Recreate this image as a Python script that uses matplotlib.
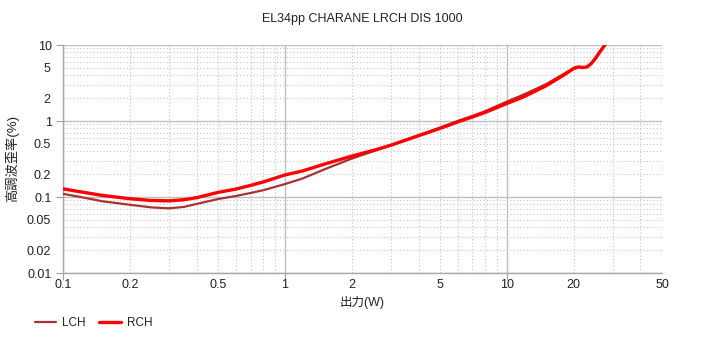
import matplotlib
matplotlib.use("Agg")
import matplotlib.pyplot as plt
from matplotlib.ticker import FixedLocator, FuncFormatter

plt.rcParams['font.family'] = ['Liberation Sans', 'Noto Sans CJK JP', 'DejaVu Sans']

power = [0.1, 0.12, 0.15, 0.2, 0.25, 0.3, 0.35, 0.4, 0.5, 0.6, 0.7, 0.8, 1.0, 1.2, 1.5,
         2, 2.5, 3, 4, 5, 6, 7, 8, 10, 12, 15, 18, 20, 21, 22, 23, 24, 25, 26, 27, 28, 29]
lch = [0.11, 0.10, 0.088, 0.079, 0.073, 0.071, 0.074, 0.081, 0.094, 0.103, 0.113, 0.123, 0.148,
       0.175, 0.23, 0.32, 0.40, 0.48, 0.65, 0.82, 1.0, 1.17, 1.35, 1.8, 2.25, 3.05, 4.15, 5.0,
       5.15, 5.05, 5.15, 5.7, 6.6, 7.8, 9.1, 10.5, 12]
rch = [0.128, 0.117, 0.105, 0.095, 0.090, 0.089, 0.092, 0.098, 0.115, 0.127, 0.142, 0.158, 0.195,
       0.22, 0.27, 0.345, 0.41, 0.48, 0.64, 0.80, 0.97, 1.13, 1.30, 1.70, 2.10, 2.90, 4.0, 4.9,
       5.15, 5.05, 5.15, 5.7, 6.6, 7.8, 9.1, 10.5, 12]

title = "EL34pp CHARANE LRCH DIS 1000"
xlabel = "出力(W)"
ylabel = "高調波歪率(%)"

fig = plt.figure(figsize=(7.26, 3.52), dpi=100)
ax = fig.add_axes([63/726, 1-273/352, (662-63)/726, (273-45)/352])
ax.set_xscale('log')
ax.set_yscale('log')
ax.set_xlim(0.1, 50)
ax.set_ylim(0.01, 10)

ax.plot(power, lch, color='#a83232', lw=1.6, label='LCH', solid_capstyle='round', zorder=3)
ax.plot(power, rch, color='#ff0000', lw=2.4, label='RCH', solid_capstyle='round', zorder=4)

def minor_fmt(v, pos):
    import math
    e = math.floor(math.log10(v) + 1e-9)
    d = round(v / 10**e)
    if d in (2, 5):
        return f"{v:g}"
    return ""

def major_fmt(v, pos):
    return f"{v:g}"

for axis, majors, minors in ((ax.xaxis, [0.1, 1, 10], [m*10**e for e in (-1, 0, 1) for m in range(2, 10) if m*10**e <= 50]),
                             (ax.yaxis, [0.01, 0.1, 1, 10], [m*10**e for e in (-2, -1, 0) for m in range(2, 10)])):
    axis.set_major_locator(FixedLocator(majors))
    axis.set_minor_locator(FixedLocator(minors))
    axis.set_major_formatter(FuncFormatter(major_fmt))
    axis.set_minor_formatter(FuncFormatter(minor_fmt))

ax.tick_params(which='major', length=5, color='#a0a0a0', labelsize=9, labelcolor='#222222', pad=3)
ax.tick_params(which='minor', length=0, labelsize=9, labelcolor='#222222')
ax.tick_params(axis='y', which='minor', pad=9)
ax.tick_params(axis='x', which='minor', pad=4)
ax.tick_params(axis='x', which='major', pad=-1)

ax.grid(which='major', color='#c0c0c0', lw=1.0, ls='-', zorder=0)
ax.grid(which='minor', color='#c4c4c4', lw=0.8, ls=(0, (1, 2)), zorder=0)
ax.axvline(50, color='#c4c4c4', lw=0.8, ls=(0, (1, 2)), zorder=0)
for s in ('top', 'right'):
    ax.spines[s].set_visible(False)
for s in ('left', 'bottom'):
    ax.spines[s].set_color('#a8a8a8')
    ax.spines[s].set_linewidth(1.0)
ax.set_axisbelow(True)

fig.text(362/726, 1-19/352, title, ha='center', va='center', fontsize=9, color='#222222')
ax.set_xlabel(xlabel, fontsize=9, color='#222222', labelpad=4)
ax.set_ylabel(ylabel, fontsize=9.5, color='#222222', labelpad=5)

fig.legend(loc='lower left', bbox_to_anchor=(24/726, 12/352), ncol=2, frameon=False,
           fontsize=8.5, handlelength=1.85, handletextpad=0.45, columnspacing=1.2,
           labelcolor='#222222')

fig.savefig('out.png', dpi=100)
